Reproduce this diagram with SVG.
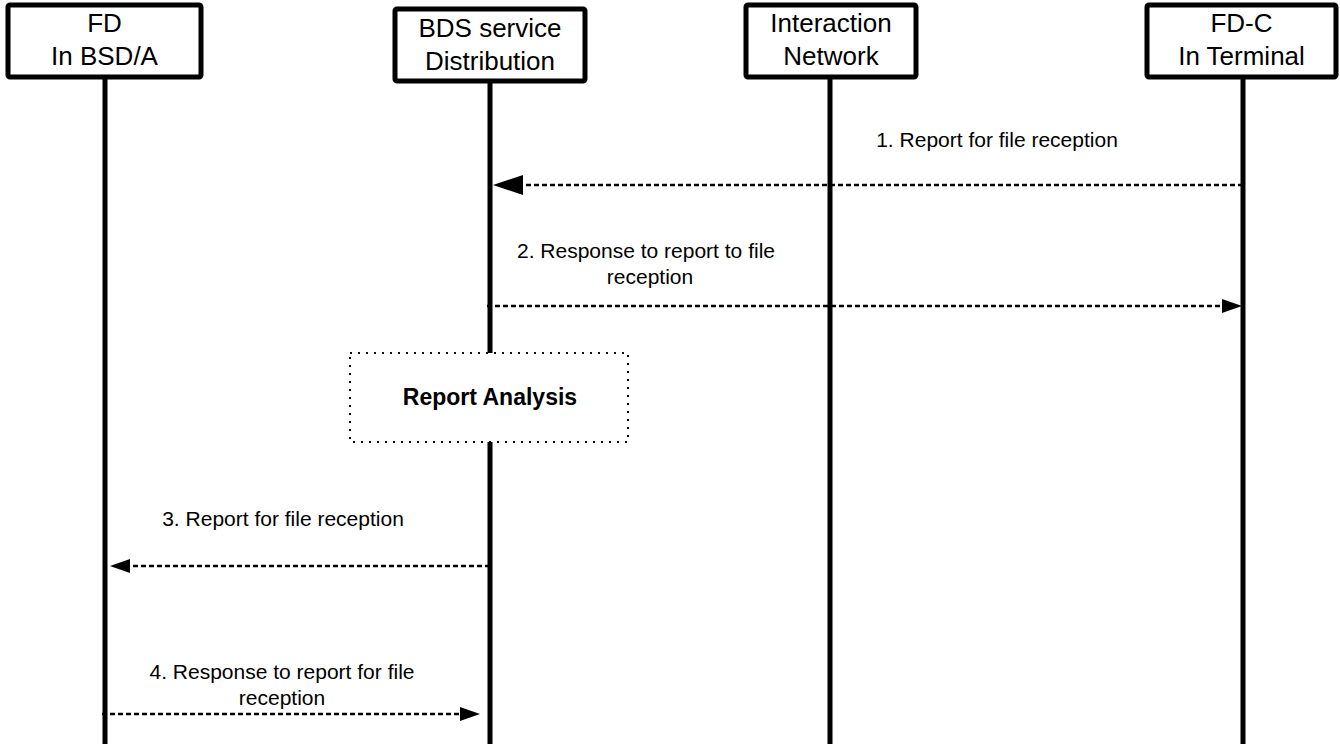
<svg xmlns="http://www.w3.org/2000/svg" width="1340" height="746" viewBox="0 0 1340 746">
<style>
.box{fill:#fff;stroke:#000;stroke-width:5}
.life{stroke:#000;stroke-width:5;fill:none}
.msg{stroke:#000;stroke-width:2.5;stroke-dasharray:5 3;fill:none}
.bt{font-family:"Liberation Sans",Arial,sans-serif;font-size:26px;fill:#000;text-anchor:middle}
.lt{font-family:"Liberation Sans",Arial,sans-serif;font-size:21px;fill:#000;text-anchor:middle}
.rt{font-family:"Liberation Sans",Arial,sans-serif;font-size:23px;font-weight:bold;fill:#000;text-anchor:middle}
.dot{fill:#fff;stroke:#000;stroke-width:2;stroke-dasharray:2 6}
</style>
<defs>
<marker id="ahBig" markerUnits="userSpaceOnUse" markerWidth="30" markerHeight="20" refX="0" refY="10" orient="auto" overflow="visible">
<path d="M0,0 L30,10 L0,20 Z" fill="#000"/>
</marker>
<marker id="ah" markerUnits="userSpaceOnUse" markerWidth="20" markerHeight="14" refX="0" refY="7" orient="auto" overflow="visible">
<path d="M0,0 L20,7 L0,14 Z" fill="#000"/>
</marker>
</defs>

<g id="lifelines">
<line class="life" x1="105" y1="77" x2="105" y2="744"/>
<line class="life" x1="490" y1="81" x2="490" y2="744"/>
<line class="life" x1="830" y1="77" x2="830" y2="744"/>
<line class="life" x1="1243" y1="77" x2="1243" y2="744"/>
</g>

<g id="node-fd">
<rect class="box" x="8" y="5" width="193" height="72" rx="2"/>
<text class="bt" x="104.5" y="32">FD</text>
<text class="bt" x="104.5" y="65">In BSD/A</text>
</g>
<g id="node-bds">
<rect class="box" x="395" y="9" width="190" height="72" rx="2"/>
<text class="bt" x="490" y="37">BDS service</text>
<text class="bt" x="490" y="70">Distribution</text>
</g>
<g id="node-interaction">
<rect class="box" x="746" y="5" width="170" height="72" rx="2"/>
<text class="bt" x="831" y="32">Interaction</text>
<text class="bt" x="831" y="65">Network</text>
</g>
<g id="node-fdc">
<rect class="box" x="1147" y="5" width="189" height="72" rx="2"/>
<text class="bt" x="1241.5" y="32">FD-C</text>
<text class="bt" x="1241.5" y="65">In Terminal</text>
</g>

<g id="connectors">
<line class="msg" x1="1243" y1="185" x2="523" y2="185" marker-end="url(#ahBig)"/>
<line class="msg" x1="487" y1="306" x2="1222" y2="306" marker-end="url(#ah)"/>
<line class="msg" x1="490" y1="566" x2="130" y2="566" marker-end="url(#ah)"/>
<line class="msg" x1="102" y1="714" x2="460" y2="714" marker-end="url(#ah)"/>
</g>

<g id="labels">
<text class="lt" x="997" y="147">1. Report for file reception</text>
<text class="lt" x="646" y="258">2. Response to report to file</text>
<text class="lt" x="650" y="284">reception</text>
<text class="lt" x="283" y="526">3. Report for file reception</text>
<text class="lt" x="282" y="679">4. Response to report for file</text>
<text class="lt" x="282" y="705">reception</text>
</g>

<g id="node-report-analysis">
<rect class="dot" x="350" y="353" width="278" height="89"/>
<text class="rt" x="490" y="405">Report Analysis</text>
</g>
</svg>
